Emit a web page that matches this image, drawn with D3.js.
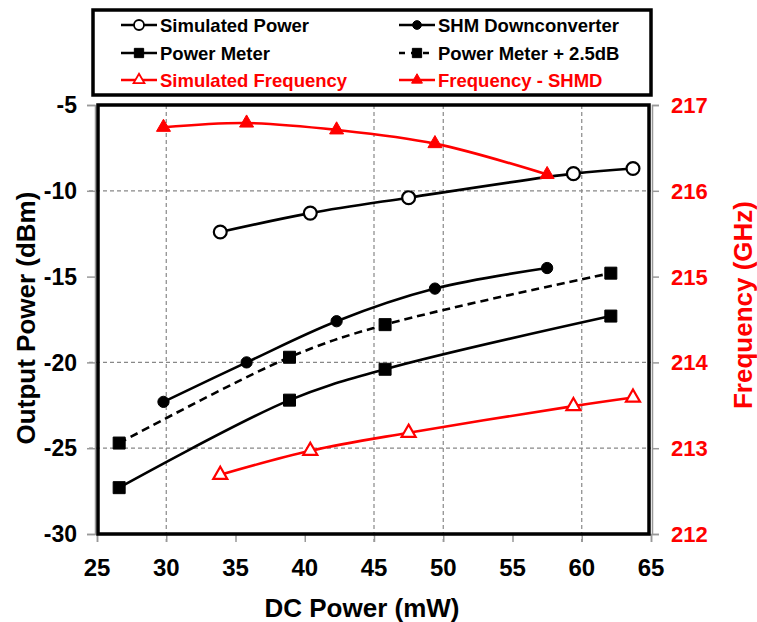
<!DOCTYPE html>
<html>
<head>
<meta charset="utf-8">
<script src="https://cdn.jsdelivr.net/npm/d3@7"></script>
<style>
  body { margin: 0; background: #fff; }
  text { font-family: "Liberation Sans", Arial, sans-serif; font-weight: bold; }
</style>
</head>
<body>
<svg class="chart"></svg>
<script>
// Values
var xTicks = [25, 30, 35, 40, 45, 50, 55, 60, 65];
var yLeftTicks = [-30, -25, -20, -15, -10, -5];
var yRightTicks = [212, 213, 214, 215, 216, 217];
var gridX = [30, 45, 50, 60];
var gridY = [-25, -20, -10];

var simPowerX = [33.9, 40.4, 47.5, 59.4, 63.7];
var simPowerY = [-12.4, -11.3, -10.4, -9.0, -8.7];
var shmX = [29.8, 35.8, 42.3, 49.4, 57.5];
var shmY = [-22.3, -20.0, -17.6, -15.7, -14.5];
var pmX = [26.6, 38.9, 45.8, 62.1];
var pmY = [-27.3, -22.2, -20.4, -17.3];
var pm25Y = [-24.7, -19.7, -17.8, -14.8];
var simFreqX = [33.9, 40.4, 47.5, 59.4, 63.7];
var simFreqY = [212.69, 212.97, 213.18, 213.49, 213.59];
var freqX = [29.8, 35.8, 42.3, 49.4, 57.5];
var freqY = [216.74, 216.79, 216.71, 216.55, 216.19];

var W = 757, H = 622;
var plotLeft = 97, plotRight = 651, plotTop = 105, plotBottom = 534;

var chart = d3.select(".chart").attr("width", W).attr("height", H);

var x = d3.scaleLinear().domain([25, 65]).range([plotLeft, plotRight]);
var yL = d3.scaleLinear().domain([-30, -5]).range([plotBottom, plotTop]);
var yR = d3.scaleLinear().domain([212, 217]).range([plotBottom, plotTop]);

// gridlines (only the ones that show in the picture)
var grid = chart.append("g").attr("class", "grid");
grid.selectAll("line.gx").data(gridX).enter().append("line")
  .attr("x1", function(d) { return x(d); }).attr("x2", function(d) { return x(d); })
  .attr("y1", plotTop).attr("y2", plotBottom + 8)
  .attr("stroke", "#888").attr("stroke-width", 1.2).attr("stroke-dasharray", "4,3");
grid.selectAll("line.gy").data(gridY).enter().append("line")
  .attr("y1", function(d) { return yL(d); }).attr("y2", function(d) { return yL(d); })
  .attr("x1", plotLeft - 8).attr("x2", plotRight)
  .attr("stroke", "#888").attr("stroke-width", 1.2).attr("stroke-dasharray", "4,3");

// axes: thin gray lines with outside ticks
var xAxis = d3.axisBottom(x).tickValues(xTicks).tickSize(8).tickFormat("");
chart.append("g").attr("transform", "translate(0," + plotBottom + ")").call(xAxis)
  .call(function(g) { g.selectAll("line, path").attr("stroke", "#999").attr("stroke-width", 1.5); });
var yAxisL = d3.axisLeft(yL).tickValues(yLeftTicks).tickSize(8).tickFormat("");
chart.append("g").attr("transform", "translate(" + (plotLeft - 2) + ",0)").call(yAxisL)
  .call(function(g) { g.selectAll("line, path").attr("stroke", "#999").attr("stroke-width", 1.5); });
var yAxisR = d3.axisRight(yR).tickValues(yRightTicks).tickSize(7).tickFormat("");
chart.append("g").attr("transform", "translate(" + (plotRight + 1) + ",0)").call(yAxisR)
  .call(function(g) { g.selectAll("line, path").attr("stroke", "#999").attr("stroke-width", 1.5); });

// tick labels
chart.append("g").selectAll("text").data(xTicks).enter().append("text")
  .attr("x", function(d) { return x(d); }).attr("y", 576)
  .attr("text-anchor", "middle").style("font-size", "24px").attr("fill", "#000")
  .text(function(d) { return d; });
chart.append("g").selectAll("text").data(yLeftTicks).enter().append("text")
  .attr("x", 77).attr("y", function(d) { return yL(d); }).attr("dy", "0.36em")
  .attr("text-anchor", "end").style("font-size", "23px").attr("fill", "#000")
  .text(function(d) { return d; });
chart.append("g").selectAll("text").data(yRightTicks).enter().append("text")
  .attr("x", 671).attr("y", function(d) { return yR(d); }).attr("dy", "0.36em")
  .attr("text-anchor", "start").style("font-size", "22px").attr("fill", "#ff0000")
  .text(function(d) { return d; });

// axis titles
chart.append("text").attr("x", 362).attr("y", 617).attr("text-anchor", "middle")
  .style("font-size", "26px").text("DC Power (mW)");
chart.append("text").attr("transform", "translate(35,318) rotate(-90)").attr("text-anchor", "middle")
  .style("font-size", "26px").text("Output Power (dBm)");
chart.append("text").attr("transform", "translate(752,305) rotate(-90)").attr("text-anchor", "middle")
  .style("font-size", "26px").attr("fill", "#ff0000").text("Frequency (GHz)");

// series
var series = [
  {name: "Simulated Power", xs: simPowerX, ys: simPowerY, y: yL, color: "#000", dash: null, shape: d3.symbolCircle, size: 130, filled: false},
  {name: "SHM Downconverter", xs: shmX, ys: shmY, y: yL, color: "#000", dash: null, shape: d3.symbolCircle, size: 100, filled: true},
  {name: "Power Meter", xs: pmX, ys: pmY, y: yL, color: "#000", dash: null, shape: d3.symbolSquare, size: 144, filled: true},
  {name: "Power Meter + 2.5dB", xs: pmX, ys: pm25Y, y: yL, color: "#000", dash: "8,5", shape: d3.symbolSquare, size: 144, filled: true},
  {name: "Simulated Frequency", xs: simFreqX, ys: simFreqY, y: yR, color: "#ff0000", dash: null, shape: d3.symbolTriangle, size: 85, filled: false},
  {name: "Frequency - SHMD", xs: freqX, ys: freqY, y: yR, color: "#ff0000", dash: null, shape: d3.symbolTriangle, size: 85, filled: true}
];

var body = chart.append("g").attr("class", "chart-body");
series.forEach(function(s) {
  var pts = s.xs.map(function(v, i) { return [v, s.ys[i]]; });
  var line = d3.line()
    .x(function(d) { return x(d[0]); })
    .y(function(d) { return s.y(d[1]); })
    .curve(d3.curveCatmullRom.alpha(0.5));
  body.append("path").datum(pts)
    .attr("d", line).attr("fill", "none")
    .attr("stroke", s.color).attr("stroke-width", 2.6)
    .attr("stroke-dasharray", s.dash);
  body.selectAll(null).data(pts).enter().append("path")
    .attr("transform", function(d) { return "translate(" + x(d[0]) + "," + s.y(d[1]) + ")"; })
    .attr("d", d3.symbol().type(s.shape).size(s.size))
    .attr("fill", s.filled ? s.color : "#fff")
    .attr("stroke", s.color).attr("stroke-width", s.filled ? 1 : 2.2);
});

// plot frame
chart.append("rect").attr("x", plotLeft + 1).attr("y", plotTop).attr("width", plotRight - plotLeft - 3).attr("height", plotBottom - plotTop)
  .attr("fill", "none").attr("stroke", "#000").attr("stroke-width", 3.5);

// legend
var legend = chart.append("g").attr("class", "legend");
legend.append("rect").attr("x", 93).attr("y", 10).attr("width", 558).attr("height", 85)
  .attr("fill", "#fff").attr("stroke", "#000").attr("stroke-width", 3.5);
var colX = [121, 399], rowY = [25, 53, 80];
series.forEach(function(s, i) {
  var lx = colX[i % 2], ly = rowY[Math.floor(i / 2)];
  var g = legend.append("g").attr("transform", "translate(" + lx + "," + ly + ")");
  g.append("line").attr("x1", 0).attr("x2", 36).attr("y1", 0).attr("y2", 0)
    .attr("stroke", s.color).attr("stroke-width", 2.6).attr("stroke-dasharray", s.dash ? "6,6" : null);
  g.append("path").attr("transform", "translate(18,0)")
    .attr("d", d3.symbol().type(s.shape).size(s.size * 0.6))
    .attr("fill", s.filled ? s.color : "#fff")
    .attr("stroke", s.color).attr("stroke-width", s.filled ? 1 : 1.8);
  g.append("text").attr("x", 39).attr("dy", "0.36em")
    .style("font-size", "18.5px").attr("fill", s.color).text(s.name);
});
</script>
</body>
</html>
